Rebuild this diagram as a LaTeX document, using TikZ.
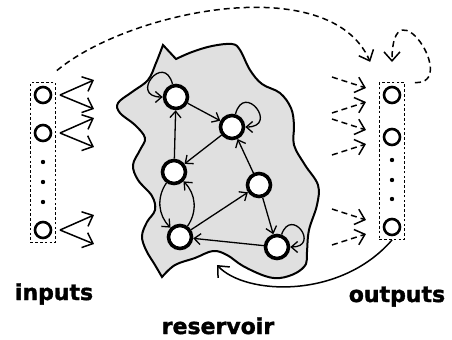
\documentclass[tikz,border=0pt]{standalone}
\usepackage{fontspec}
\setmainfont{DejaVu Sans}
\newfontfamily\heavyfont[BoldFeatures={FakeBold=1.6}]{DejaVu Sans}
\usetikzlibrary{arrows.meta,fit,calc}

\begin{document}
\begin{tikzpicture}[x=0.5pt,y=0.5pt,
    unit/.style={circle,draw,line width=1.3pt,minimum size=8pt,inner sep=0pt},
    neuron/.style={circle,draw,fill=white,line width=1.8pt,minimum size=11.5pt,inner sep=0pt},
    dotnode/.style={circle,fill,minimum size=2.2pt,inner sep=0pt},
    colbox/.style={draw,dash pattern=on 1.3pt off 1.1pt,line width=0.5pt,inner sep=1.6pt},
    inarr/.style={line width=0.75pt,-{Straight Barb[length=4.5pt,width=8pt]}},
    outarr/.style={inarr,dash pattern=on 3pt off 2pt},
    syn/.style={line width=0.65pt,-{Straight Barb[length=3.2pt,width=5.5pt]}},
    bigtext/.style={font=\heavyfont\bfseries\fontsize{11}{13}\selectfont,anchor=base}]
  \useasboundingbox (0,0) rectangle (452,-339);

  % reservoir blob
  \filldraw[fill=black!12,line width=1pt] (176,-59)
    -- plot[smooth,tension=0.6] coordinates {(176,-59) (192,-52) (212,-46) (232,-44) (240,-50)
        (250,-70) (262,-84) (280,-93) (291,-108) (294,-125) (294,-145) (305,-165) (318,-185)
        (317,-205) (309,-230) (307,-252) (306,-264) (296,-273) (280,-278) (265,-276)
        (243,-266) (227,-255) (213,-251) (195,-258) (175,-265) (162,-277)}
    -- plot[smooth,tension=0.6] coordinates {(162,-277) (155,-265) (146,-250) (142,-236)
        (147,-222) (155,-210) (152,-196) (138,-180) (133,-165) (140,-150) (145,-138)
        (135,-125) (120,-113) (118,-103) (132,-92) (148,-80) (156,-63) (163,-45)}
    -- cycle;

  % input and output columns
  \node[unit] (in1) at (43,-95) {};
  \node[unit] (in2) at (43,-133) {};
  \node[unit] (in3) at (43,-230) {};
  \foreach \y in {162,182,202} \node[dotnode] (ind\y) at (43,-\y) {};
  \node[colbox,fit=(in1)(in3)] (inbox) {};

  \node[unit] (out1) at (392,-95) {};
  \node[unit] (out2) at (392,-137) {};
  \node[unit] (out3) at (392,-227) {};
  \foreach \y in {160,180,199} \node[dotnode] (outd\y) at (392,-\y) {};
  \node[colbox,fit=(out1)(out3)] (outbox) {};

  \foreach \i in {1,2,3}{
    \coordinate (in\i s) at ($(in\i)+(17,0)$);
    \coordinate (in\i a) at ($(in\i)+(51,15)$);
    \coordinate (in\i b) at ($(in\i)+(51,-14)$);
    \draw[inarr] (in\i s) -- (in\i a);
    \draw[inarr] (in\i s) -- (in\i b);
    \coordinate (out\i a) at ($(out\i)+(-60,18)$);
    \coordinate (out\i b) at ($(out\i)+(-60,-18)$);
    \coordinate (out\i c) at ($(out\i)+(-26,7)$);
    \coordinate (out\i d) at ($(out\i)+(-26,-7)$);
    \draw[outarr] (out\i a) -- (out\i c);
    \draw[outarr] (out\i b) -- (out\i d);
  }

  % reservoir units
  \node[neuron] (r1) at (176,-97) {};
  \node[neuron] (r2) at (232,-127) {};
  \node[neuron] (r3) at (174,-172) {};
  \node[neuron] (r4) at (259,-185) {};
  \node[neuron] (r5) at (180,-237) {};
  \node[neuron] (r6) at (277,-247) {};

  \draw[syn] (r1) -- (r2);
  \draw[syn] (r3) -- (r1);
  \draw[syn] (r2) -- (r3);
  \draw[syn] (r4) -- (r2);
  \draw[syn] (r4) -- (r6);
  \draw[syn] (r6) -- (r5);
  \draw[syn] (r5) -- (r4);
  \draw[syn] (r3) to[bend right=40] (r5);
  \draw[syn] (r5) to[bend right=40] (r3);
  \draw[syn] (r1) to[out=105,in=180,distance=17pt] (r1);
  \draw[syn] (r2) to[out=75,in=0,distance=17pt] (r2);
  \draw[syn] (r6) to[out=70,in=0,distance=15pt] (r6);

  % feedback
  \draw[outarr,shorten <=9pt,shorten >=11pt] (inbox.north)
    .. controls (130,-10) and (330,30) .. (outbox.north west);
  \draw[outarr,shorten <=5pt,shorten >=10pt] (outbox.north east)
    .. controls (460,-85) and (392,20) .. (outbox.north);
  \coordinate (fbend) at (217,-265);
  \draw[inarr] (outbox.south) .. controls (340,-300) and (245,-295) .. (fbend);

  \node[bigtext] (intext) at (54,-300) {inputs};
  \node[bigtext] (outtext) at (397,-302) {outputs};
  \node[bigtext] (restext) at (218,-334) {reservoir};
\end{tikzpicture}
\end{document}
